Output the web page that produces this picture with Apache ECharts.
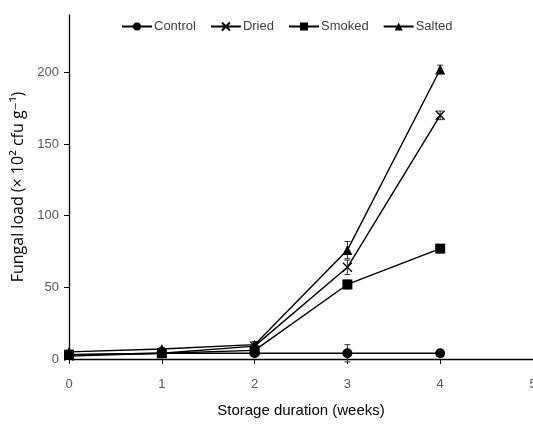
<!DOCTYPE html>
<html><head><meta charset="utf-8">
<script src="https://cdn.jsdelivr.net/npm/echarts@6/dist/echarts.min.js"></script>
<style>html,body{margin:0;padding:0;background:#fff}#c{width:533px;height:425px}</style>
</head><body><div id="c"></div>
<script>
const weeks = [0, 1, 2, 3, 4];
const xTicks = [0, 1, 2, 3, 4, 5];
const yTicks = [0, 50, 100, 150, 200];
const control = [3, 4, 4, 4, 4];
const dried = [2, 4, 9, 64, 170];
const smoked = [3, 4, 6, 52, 77];
const salted = [5, 7, 10, 76, 202];
const controlErr = [1, 1, 1, 6, 2];
const driedErr = [1, 1, 3, 5, 3];
const smokedErr = [1, 1, 1, 3, 2];
const saltedErr = [1, 1, 2, 6, 3];

const font = "'Liberation Sans',sans-serif";
const chart = echarts.init(document.getElementById('c'));

function lineSeries(name, data, symbol, size) {
  return {
    name, type: 'line', data: weeks.map((w, i) => [w, data[i]]),
    symbol, symbolSize: size, z: 3,
    lineStyle: { color: '#000', width: 1.4 },
    itemStyle: { color: '#000', borderColor: '#000', borderWidth: symbol.startsWith('path') ? 1.3 : 0 }
  };
}
function errSeries(data, err) {
  return {
    type: 'custom', silent: true, z: 2,
    data: weeks.map((w, i) => [w, data[i], err[i]]),
    renderItem: function (params, api) {
      const x = api.value(0), v = api.value(1), e = api.value(2);
      const top = api.coord([x, v + e]);
      const bot = api.coord([x, v - e]);
      const hw = 3;
      return {
        type: 'group', children: [
          { type: 'line', shape: { x1: top[0], y1: top[1], x2: bot[0], y2: bot[1] }, style: { stroke: '#333', lineWidth: 1 } },
          { type: 'line', shape: { x1: top[0] - hw, y1: top[1], x2: top[0] + hw, y2: top[1] }, style: { stroke: '#333', lineWidth: 1 } },
          { type: 'line', shape: { x1: bot[0] - hw, y1: bot[1], x2: bot[0] + hw, y2: bot[1] }, style: { stroke: '#333', lineWidth: 1 } }
        ]
      };
    }
  };
}
const xPath = 'path://M0,0 L10,10 M10,0 L0,10';

chart.setOption({
  animation: false,
  textStyle: { fontFamily: font },
  legend: {
    top: 15, left: 116, itemGap: 14, itemWidth: 30, itemHeight: 10,
    textStyle: { fontFamily: font, fontSize: 13, color: '#404040', padding: [0, 0, 0, -3] },
    data: ['Control', 'Dried', 'Smoked', 'Salted']
  },
  grid: { left: 69, right: 0, top: 15, bottom: 66, containLabel: false, outerBoundsMode: 'none' },
  xAxis: {
    type: 'value', min: 0, max: 5, interval: 1,
    name: 'Storage duration (weeks)', nameLocation: 'middle', nameGap: 44,
    nameTextStyle: { fontFamily: font, fontSize: 15, color: '#000' },
    axisLine: { lineStyle: { color: '#000', width: 1.3 } },
    axisTick: { show: true, length: 5, lineStyle: { color: '#000' }, customValues: xTicks },
    axisLabel: { color: '#595959', fontSize: 13, margin: 19, customValues: xTicks },
    splitLine: { show: false }
  },
  yAxis: {
    type: 'value', min: 0, max: 240, interval: 50,
    name: 'Fungal load (× 10² cfu g⁻¹)', nameLocation: 'middle', nameGap: 36, nameRotate: 90,
    nameTextStyle: { fontFamily: "'Open Sans','DejaVu Sans',sans-serif", fontSize: 16, color: '#000' },
    axisLine: { show: true, lineStyle: { color: '#000', width: 1.3 } },
    axisTick: { show: true, length: 5, lineStyle: { color: '#000' }, customValues: yTicks },
    axisLabel: { color: '#595959', fontSize: 13, margin: 10, customValues: yTicks },
    splitLine: { show: false }
  },
  series: [
    errSeries(control, controlErr),
    errSeries(dried, driedErr),
    errSeries(smoked, smokedErr),
    errSeries(salted, saltedErr),
    lineSeries('Control', control, 'circle', 10),
    lineSeries('Dried', dried, xPath, 9),
    lineSeries('Smoked', smoked, 'rect', 10),
    lineSeries('Salted', salted, 'triangle', 10)
  ]
});
</script></body></html>
